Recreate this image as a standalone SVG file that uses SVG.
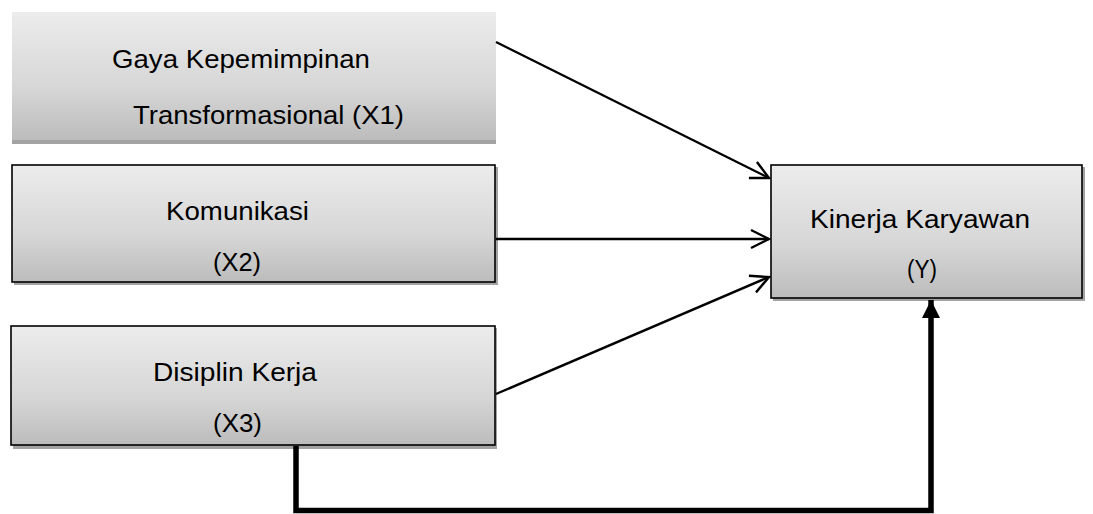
<svg xmlns="http://www.w3.org/2000/svg" width="1093" height="514" viewBox="0 0 1093 514">
<defs>
<linearGradient id="g" x1="0" y1="0" x2="0" y2="1">
<stop offset="0" stop-color="#ececec"/>
<stop offset="0.6" stop-color="#d6d6d6"/>
<stop offset="1" stop-color="#bcbcbc"/>
</linearGradient>
<marker id="open" markerUnits="userSpaceOnUse" markerWidth="22" markerHeight="22" refX="20" refY="10" orient="auto" viewBox="0 0 22 20">
<path d="M2,1 L20,10 L2,19" fill="none" stroke="#000" stroke-width="2.4"/>
</marker>
<marker id="solid" markerUnits="userSpaceOnUse" markerWidth="18" markerHeight="18" refX="16" refY="8" orient="auto" viewBox="0 0 16 16">
<path d="M0,0 L16,8 L0,16 Z" fill="#000"/>
</marker>
</defs>
<style>
.box{fill:url(#g);stroke:#000;stroke-width:1.6}
.shadow{fill:#a3a3a3}
.t{font-family:"Liberation Sans",Arial,sans-serif;font-size:26px;fill:#000}
.ln{stroke:#000;stroke-width:2.4;fill:none}
.thick{stroke:#000;stroke-width:5.5;fill:none}
</style>
<g id="node-x1">
<rect x="12" y="14" width="484" height="130" class="shadow"/>
<rect x="12" y="12" width="484" height="128" fill="url(#g)"/>
<text x="112" y="68" class="t" textLength="258" lengthAdjust="spacingAndGlyphs">Gaya Kepemimpinan</text>
<text x="133" y="124" class="t" textLength="271" lengthAdjust="spacingAndGlyphs">Transformasional (X1)</text>
</g>
<g id="node-x2">
<rect x="14" y="167" width="484" height="118" class="shadow"/>
<rect x="12" y="165" width="483" height="117" class="box"/>
<text x="166" y="220" class="t" textLength="143" lengthAdjust="spacingAndGlyphs">Komunikasi</text>
<text x="213" y="271" class="t" textLength="48" lengthAdjust="spacingAndGlyphs">(X2)</text>
</g>
<g id="node-x3">
<rect x="13" y="328" width="484" height="121" class="shadow"/>
<rect x="11" y="326" width="484" height="119" class="box"/>
<text x="153" y="381" class="t" textLength="164" lengthAdjust="spacingAndGlyphs">Disiplin Kerja</text>
<text x="213" y="432" class="t" textLength="49" lengthAdjust="spacingAndGlyphs">(X3)</text>
</g>
<g id="node-y">
<rect x="773" y="167" width="312" height="134" class="shadow"/>
<rect x="771" y="165" width="311" height="133" class="box"/>
<text x="810" y="228" class="t" textLength="220" lengthAdjust="spacingAndGlyphs">Kinerja Karyawan</text>
<text x="907" y="278" class="t" textLength="30" lengthAdjust="spacingAndGlyphs">(Y)</text>
</g>
<g id="connectors">
<line x1="496" y1="42" x2="769" y2="178" class="ln" marker-end="url(#open)"/>
<line x1="496" y1="239" x2="769" y2="239" class="ln" marker-end="url(#open)"/>
<line x1="496" y1="394" x2="769" y2="277" class="ln" marker-end="url(#open)"/>
<polyline points="296,446 296,510.5 931,510.5 931,300" class="thick" marker-end="url(#solid)"/>
</g>
</svg>
